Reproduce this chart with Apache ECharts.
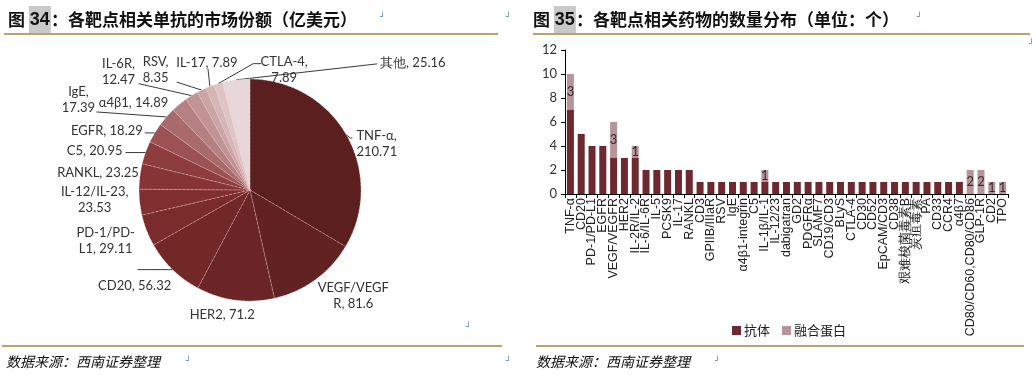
<!DOCTYPE html>
<html><head><meta charset="utf-8">
<script src="https://cdn.jsdelivr.net/npm/echarts@6/dist/echarts.min.js"></script>
<style>html,body{margin:0;padding:0;background:#fff}#c{width:1036px;height:378px}</style>
</head><body><div id="c"></div>
<script>
// ---- Left chart: market share by target (亿美元) ----
const pieNames = ['TNF-α','VEGF/VEGFR','HER2','CD20','PD-1/PD-L1','IL-12/IL-23','RANKL','C5','EGFR','IgE','α4β1','IL-6R','RSV','IL-17','CTLA-4','其他'];
const pieValues = [210.71,81.6,71.2,56.32,29.11,23.53,23.25,20.95,18.29,17.39,14.89,12.47,8.35,7.89,7.89,25.16];
const pieColors = ['#5b1f1f','#632222','#6b2526','#732828','#7a2b2c','#802f30','#863435','#8d3d3e','#9a5253','#a86a6b','#b58082','#c19395','#cba4a6','#d5b5b6','#ddc5c6','#e7d7d8'];

// ---- Right chart: number of drugs per target ----
const barCategories = ['TNF-α','CD20','PD-1/PD-L1','EGFR','VEGF/VEGFR','HER2','IL-2R/IL-2','IL-6/IL-6R','IL-5','PCSK9','IL-17','RANKL','CD3','GPIIB/IIIaR','RSV','IgE','α4β1-integrin','C5','IL-1β/IL-1','IL-12/23','dabigatran','GD2','PDGFRα','SLAMF7','CD19/CD3','BLyS','CTLA-4','CD30','CD52','EpCAM/CD3','CD38','艰难梭菌毒素B','炭疽毒素','PA','CD33','CCR4','α4β7','CD80/CD60,CD80/CD86','GLP-1R','CD2','TPO'];
const antibodyCounts = [7,5,4,4,3,3,3,2,2,2,2,2,1,1,1,1,1,1,1,1,1,1,1,1,1,1,1,1,1,1,1,1,1,1,1,1,1,0,0,0,0];
const fusionCounts   = [3,0,0,0,3,0,1,0,0,0,0,0,0,0,0,0,0,0,1,0,0,0,0,0,0,0,0,0,0,0,0,0,0,0,0,0,0,2,2,1,1];
const yTicks = [0,2,4,6,8,10,12];

// ---- pie label presentation (line bends / text offsets relative to the slice edge point) ----
const wrapAfterComma = ['TNF-α','IL-12/IL-23','IgE','IL-6R','RSV','CTLA-4'];
const wrapInName = {'VEGF/VEGFR':'VEGF/VEGF\nR','PD-1/PD-L1':'PD-1/PD-\nL1'};
const labelSpec = {
  'TNF-α':      {b:[4,3],    t:2,   o:[4,6],    a:'left'},
  'VEGF/VEGFR': {b:[0,0],    t:0,   o:[38,16],  a:'center'},
  'HER2':       {b:[0,0],    t:0,   o:[-13,15], a:'center'},
  'CD20':       {b:[-4,0],   t:-31, o:[-3,16],  a:'center'},
  'PD-1/PD-L1': {b:[0,0],    t:0,   o:[-41,10], a:'center'},
  'IL-12/IL-23':{b:[0,0],    t:0,   o:[-45,-2], a:'center'},
  'RANKL':      {b:[0,0],    t:0,   o:[-1,-4],  a:'right'},
  'C5':         {b:[0,0],    t:-20, o:[-3,-2],  a:'right'},
  'EGFR':       {b:[0,0],    t:-10, o:[-2,-2],  a:'right'},
  'IgE':        {b:[-70,-5], t:0,   o:[-18,-12],a:'center'},
  'α4β1':       {b:[0,0],    t:0,   o:[-11,-2], a:'right'},
  'IL-6R':      {b:[-53,-12],t:0,   o:[-20,-12],a:'center'},
  'RSV':        {b:[-25,-8], t:0,   o:[-21,-12],a:'center'},
  'IL-17':      {b:[-2,-18], t:0,   o:[-1,-6],  a:'center'},
  'CTLA-4':     {b:[35,-20], t:8,   o:[23,6],   a:'center'},
  '其他':       {b:[141,-16],t:0,   o:[3,-1],   a:'left'}
};

const chart = echarts.init(document.getElementById('c'));
const gold = '#b9a26c';
const blue = '#4a6fb5';
const mark = (x,y) => ({type:'text', left:x, top:y, style:{text:'┘', fill:blue, fontSize:8, fontFamily:'DejaVu Sans'}});
const titleText = (x, num, rest) => ({
  type:'text', left:x, top:6,
  style:{
    text:'图 {hl|'+num+'}'+rest,
    fontFamily:'"Noto Sans CJK SC"', fontWeight:'bold', fontSize:17, fill:'#111',
    rich:{hl:{backgroundColor:'#c9c9c9', fontFamily:'"Liberation Sans"', fontWeight:'bold', fontSize:18, padding:[5,1,5,1], fill:'#111'}}
  }
});
const footText = (x) => ({type:'text', left:x, top:355, style:{text:'数据来源：西南证券整理', fontFamily:'"Noto Sans CJK SC"', fontStyle:'italic', fontSize:14, fill:'#111'}});

chart.setOption({
  animation:false,
  backgroundColor:'#fff',
  textStyle:{fontFamily:'Lato'},
  graphic:[
    titleText(8,'34','：各靶点相关单抗的市场份额（亿美元）'),
    titleText(533,'35','：各靶点相关药物的数量分布（单位：个）'),
    {type:'line', shape:{x1:4,y1:34,x2:498,y2:34}, style:{stroke:gold, lineWidth:2}},
    {type:'line', shape:{x1:533,y1:34,x2:1030,y2:34}, style:{stroke:gold, lineWidth:2}},
    {type:'line', shape:{x1:2,y1:346,x2:502,y2:346}, style:{stroke:gold, lineWidth:2}},
    {type:'line', shape:{x1:536,y1:346,x2:1024,y2:346}, style:{stroke:gold, lineWidth:2}},
    footText(6), footText(536),
    mark(380,13), mark(506,13), mark(917,13), mark(466,323), mark(1029,40),
    mark(186,357), mark(506,357), mark(715,357)
  ],
  legend:{
    data:['抗体','融合蛋白'], left:727, top:319, icon:'rect', itemWidth:9, itemHeight:9, itemGap:12,
    textStyle:{fontFamily:'"Noto Sans CJK SC"', fontSize:13, color:'#222', padding:[0,0,0,-2]}
  },
  grid:{left:565, top:50, width:443, height:144},
  xAxis:{
    type:'category', data:barCategories,
    axisLine:{lineStyle:{color:'#000', width:1}},
    axisTick:{show:true, interval:0, length:4, lineStyle:{color:'#000'}},
    axisLabel:{interval:0, rotate:90, fontSize:12.5, margin:4, color:'#222', fontFamily:'"Liberation Sans"'}
  },
  yAxis:{
    type:'value', min:0, max:12, interval:2,
    axisLine:{show:true, lineStyle:{color:'#000'}},
    axisTick:{show:true, length:4, lineStyle:{color:'#000'}},
    splitLine:{show:false},
    axisLabel:{fontSize:13, color:'#333', margin:8, fontFamily:'Lato',
      formatter:v => yTicks.includes(v) ? String(v) : ''}
  },
  series:[
    {
      type:'pie', center:[250,190], radius:111, startAngle:90, clockwise:true,
      avoidLabelOverlap:false,
      data:pieNames.map((n,i)=>({name:n, value:pieValues[i], itemStyle:{color:pieColors[i]}})),
      itemStyle:{borderColor:'rgba(240,200,200,0.55)', borderWidth:0.7, borderType:'dashed'},
      label:{show:true, position:'outside', color:'#333', fontSize:13, lineHeight:16, fontFamily:'Lato',
        formatter:p => wrapInName[p.name] ? wrapInName[p.name]+', '+p.value
                   : (wrapAfterComma.includes(p.name) ? p.name+',\n'+p.value : p.name+', '+p.value)},
      labelLine:{show:true, length:6, length2:6, lineStyle:{color:'#3a3a3a', width:1}},
      labelLayout:function(params){
        const s = labelSpec[pieNames[params.dataIndex]];
        const pts = params.labelLinePoints;
        if (!s || !pts) return {};
        const p0 = pts[0];
        const p1 = [p0[0]+s.b[0], p0[1]+s.b[1]];
        const p2 = [p1[0]+s.t, p1[1]];
        return {
          x: p2[0]+s.o[0], y: p2[1]+s.o[1], align: s.a, verticalAlign:'middle',
          labelLinePoints:[p0,p1,p2]
        };
      },
      emphasis:{disabled:true}
    },
    {
      type:'bar', name:'抗体', stack:'n', data:antibodyCounts, barWidth:7,
      itemStyle:{color:'#6e2830'}
    },
    {
      type:'bar', name:'融合蛋白', stack:'n', data:fusionCounts, barWidth:7,
      itemStyle:{color:'#b6959a'},
      label:{show:true, position:'inside', color:'#3a2a2e', fontSize:13, fontFamily:'Lato',
        formatter:p => p.value > 0 ? String(p.value) : ''}
    }
  ]
});
</script></body></html>
